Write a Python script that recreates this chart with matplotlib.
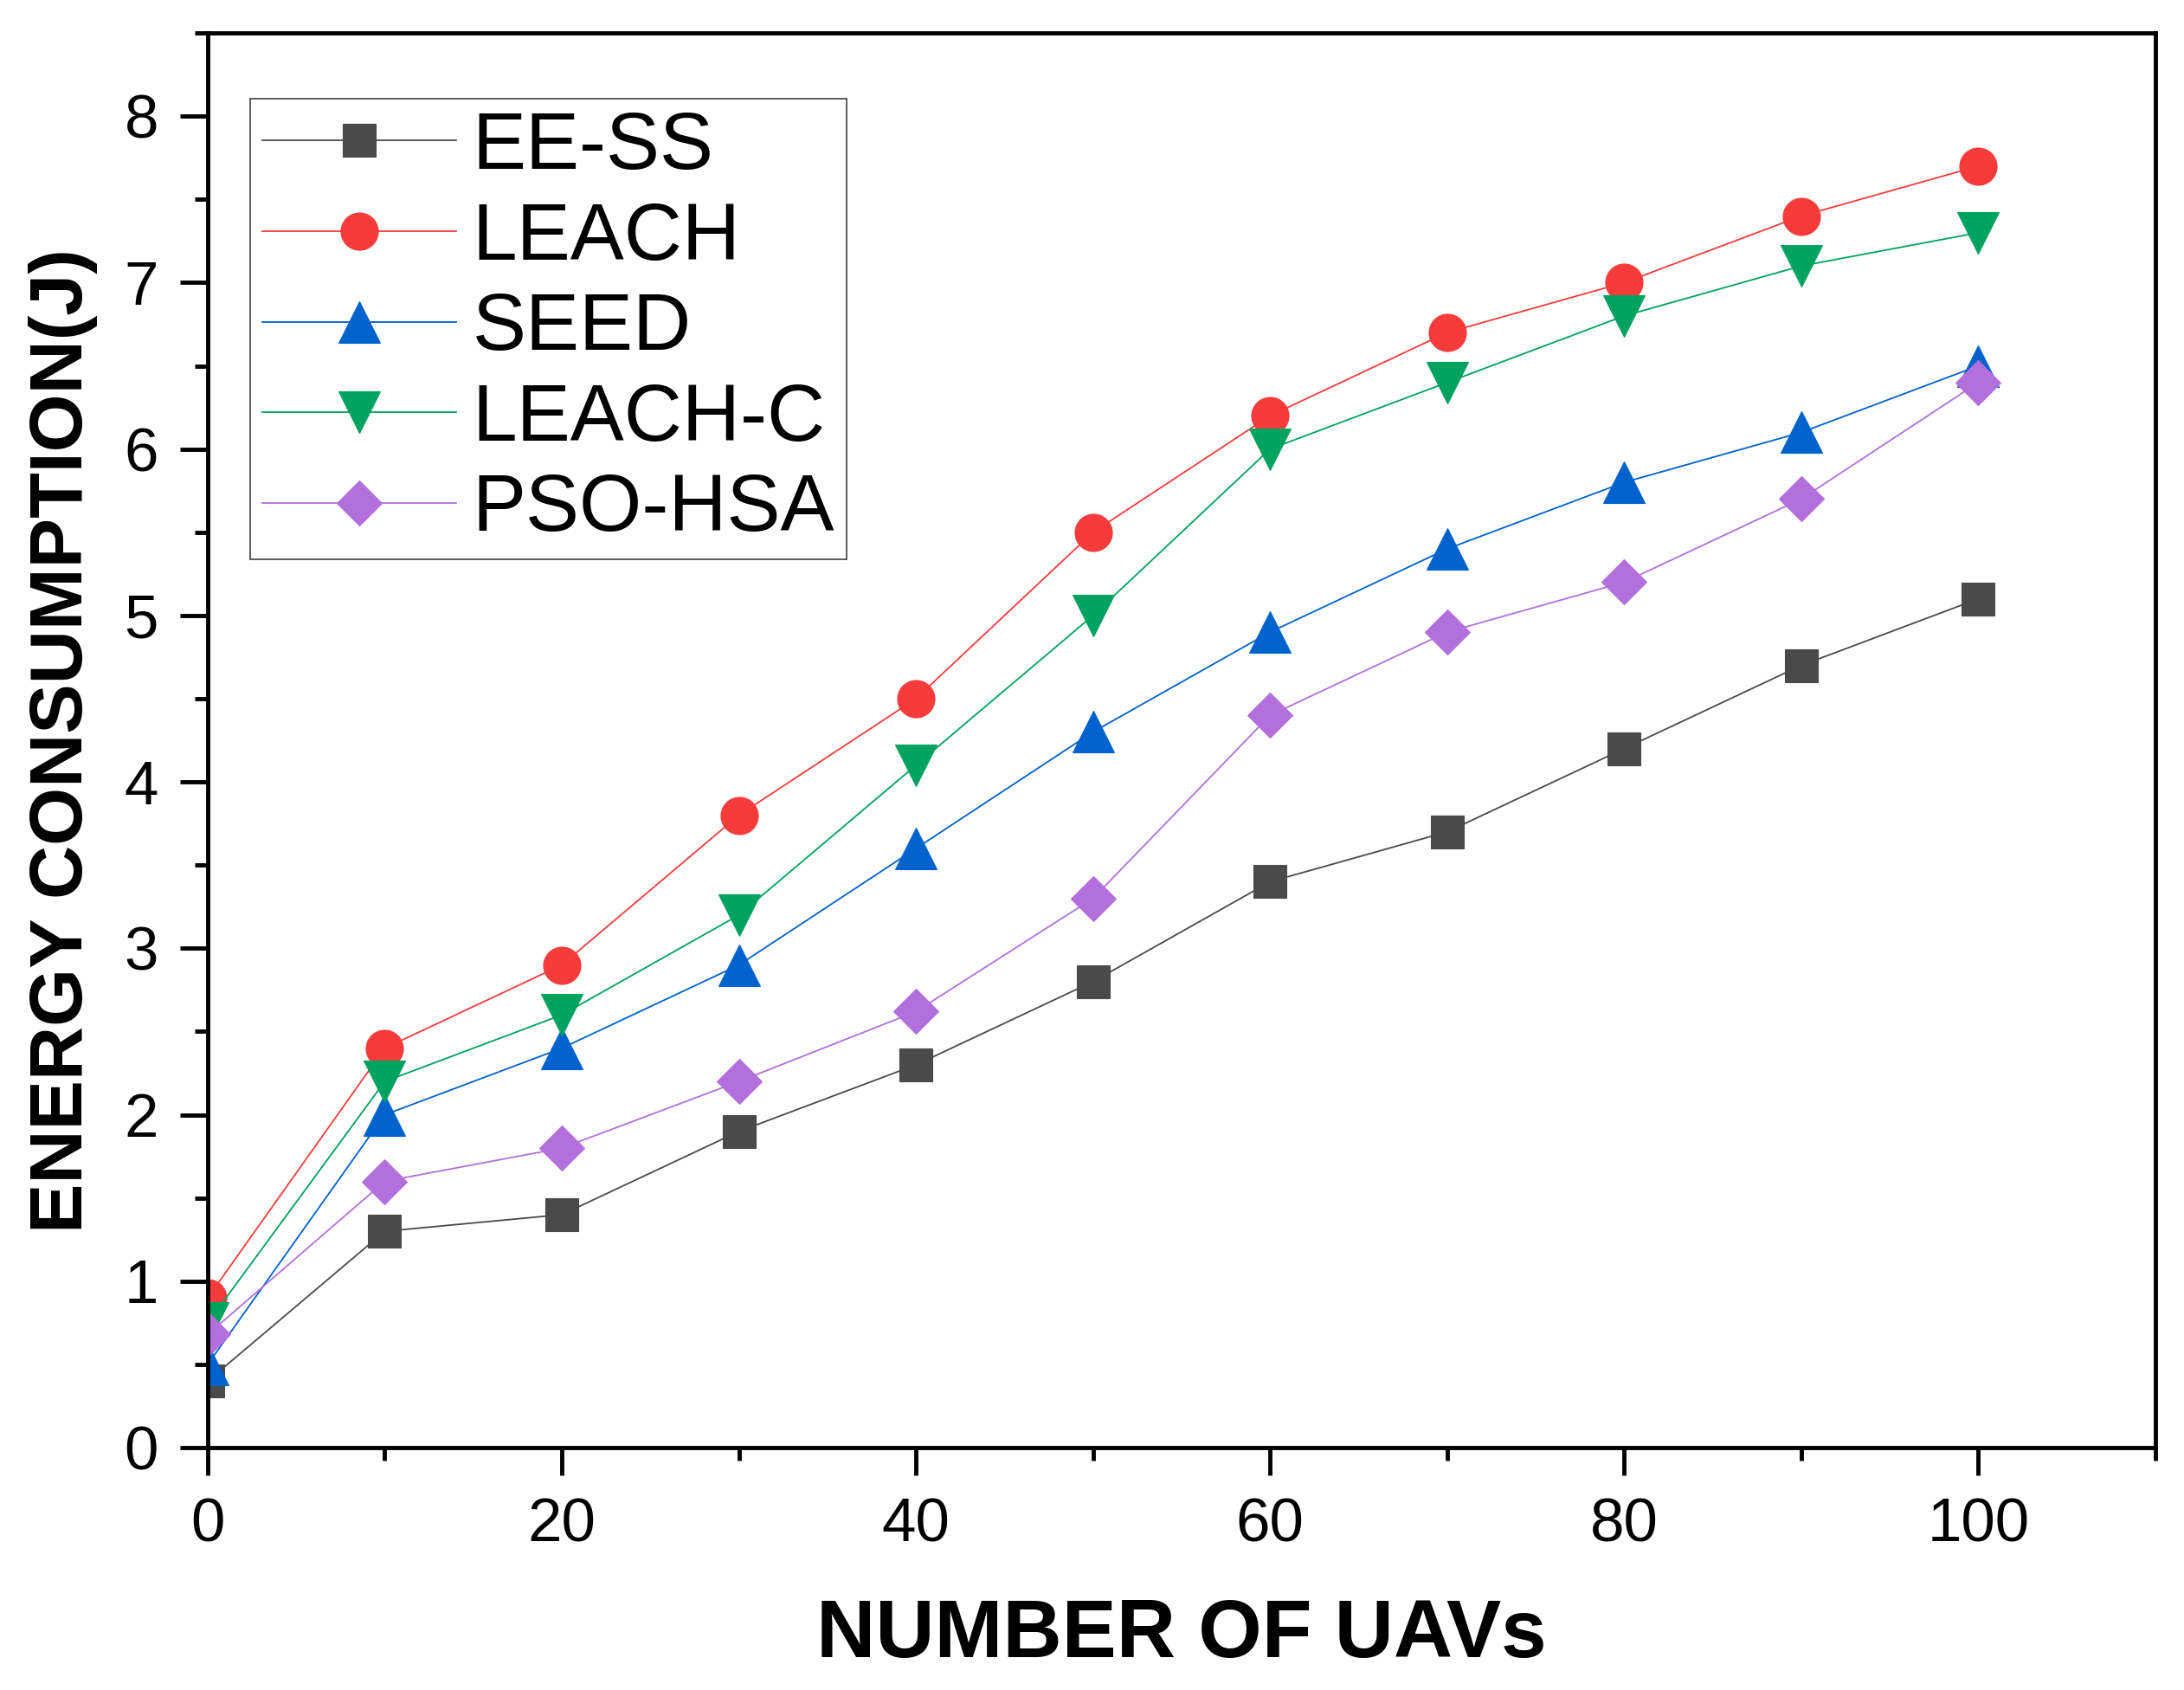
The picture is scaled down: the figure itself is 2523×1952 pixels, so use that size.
import numpy as np
import matplotlib
matplotlib.use('Agg')
import matplotlib.pyplot as plt
from matplotlib.ticker import MultipleLocator

plt.rcParams['font.family'] = ['Liberation Sans', 'DejaVu Sans']

# data
uavs = [0, 10, 20, 30, 40, 50, 60, 70, 80, 90, 100]
ee_ss = [0.4, 1.3, 1.4, 1.9, 2.3, 2.8, 3.4, 3.7, 4.2, 4.7, 5.1]
leach = [0.9, 2.4, 2.9, 3.8, 4.5, 5.5, 6.2, 6.7, 7.0, 7.4, 7.7]
seed = [0.5, 2.0, 2.4, 2.9, 3.6, 4.3, 4.9, 5.4, 5.8, 6.1, 6.5]
leach_c = [0.75, 2.2, 2.6, 3.2, 4.1, 5.0, 6.0, 6.4, 6.8, 7.1, 7.3]
pso_hsa = [0.68, 1.6, 1.8, 2.2, 2.62, 3.3, 4.4, 4.9, 5.2, 5.7, 6.4]

names = ['EE-SS', 'LEACH', 'SEED', 'LEACH-C', 'PSO-HSA']
series = [ee_ss, leach, seed, leach_c, pso_hsa]
colors = ['#4a4a4a', '#f63b3b', '#0062cc', '#00a25f', '#b36fdc']
markers = ['s', 'o', '^', 'v', 'D']
msizes = [28, 31, 34, 34, 26]

fig = plt.figure(figsize=(25.23, 19.52), dpi=100)
ax = fig.add_axes([0.0951, 0.1434, 0.9869 - 0.0951, 0.9805 - 0.1434])

for y, name, c, m, ms in zip(series, names, colors, markers, msizes):
    ax.plot(uavs, y, color=c, lw=1.3, marker=m, markersize=ms,
            markerfacecolor=c, markeredgecolor=c, markeredgewidth=0.8, label=name)

ax.set_xlim(0, 110)
ax.set_ylim(0, 8.5)
ax.xaxis.set_major_locator(MultipleLocator(20))
ax.xaxis.set_minor_locator(MultipleLocator(10))
ax.yaxis.set_major_locator(MultipleLocator(1))
ax.yaxis.set_minor_locator(MultipleLocator(0.5))

for s in ax.spines.values():
    s.set_linewidth(3.5)
ax.tick_params(which='both', direction='out', width=3.5, top=False, right=False)
ax.tick_params(which='major', length=23, labelsize=51, pad=18)
ax.tick_params(which='minor', length=11)

ax.set_xlabel('NUMBER OF UAVs', fontsize=68, fontweight='bold', labelpad=36)
ax.set_ylabel('ENERGY CONSUMPTION(J)', fontsize=62, fontweight='bold', labelpad=22)

leg = ax.legend(loc='upper left', bbox_to_anchor=(0.022, 0.9535), borderaxespad=0,
                fontsize=67, frameon=True, fancybox=False, handlelength=2.4,
                handletextpad=0.2, labelspacing=0.2, borderpad=0.15)
leg.get_frame().set_edgecolor('#222222')
leg.get_frame().set_linewidth(1.3)

fig.savefig('out.png', dpi=100)
